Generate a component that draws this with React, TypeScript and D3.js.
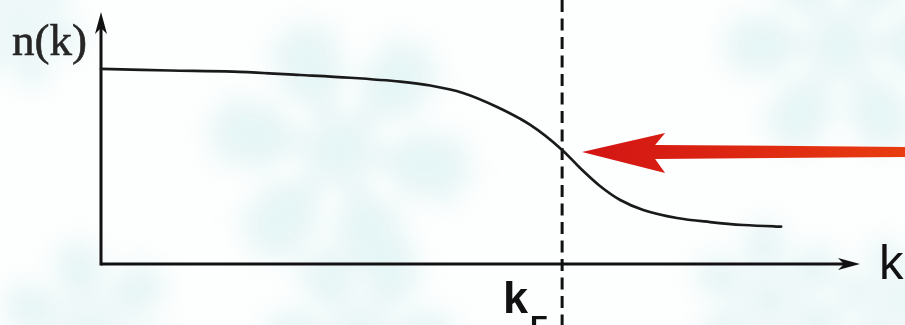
import React, { useMemo } from "react";
import * as d3 from "d3";

// Momentum distribution n(k), k in units of the Fermi momentum kF
const kValues = [0, 0.15, 0.286, 0.432, 0.54, 0.649, 0.714, 0.785, 0.859, 0.931, 1.0, 1.039, 1.082, 1.126, 1.176, 1.249, 1.321, 1.393, 1.475];
const nValues = [1.0, 0.992, 0.986, 0.969, 0.955, 0.935, 0.915, 0.877, 0.805, 0.713, 0.585, 0.492, 0.4, 0.328, 0.277, 0.236, 0.215, 0.2, 0.192];

const kFermi = 1.0;
const kAxisMax = 1.646;
const nAxisMax = 1.292;

const yLabel = "n(k)";
const xLabel = "k";
const fermiLabel = "k";
const fermiSub = "F";

const W = 905;
const H = 325;

// faint snowflake decorations in the backdrop: [cx, cy, radius, rotation]
const flakes: [number, number, number, number][] = [
  [340, 150, 125, 10],
  [840, 45, 110, 0],
  [20, 25, 60, 15],
  [90, 330, 85, 20],
  [360, 335, 90, 0],
  [770, 300, 75, 25],
  [900, 300, 60, 10],
];

function Snowflake({ cx, cy, r, rot }: { cx: number; cy: number; r: number; rot: number }) {
  const arms = d3.range(6).map((i) => {
    const a = ((i * 60 + rot) * Math.PI) / 180;
    const ex = Math.cos(a) * r;
    const ey = Math.sin(a) * r;
    const branches = [0.45, 0.7].map((t) => {
      const bx = Math.cos(a) * r * t;
      const by = Math.sin(a) * r * t;
      const len = r * 0.28;
      return [-1, 1].map((s) => {
        const b = a + (s * Math.PI) / 4;
        return (
          <line
            key={`${t}-${s}`}
            x1={bx}
            y1={by}
            x2={bx + Math.cos(b) * len}
            y2={by + Math.sin(b) * len}
          />
        );
      });
    });
    return (
      <g key={i}>
        <line x1={0} y1={0} x2={ex} y2={ey} />
        {branches}
      </g>
    );
  });
  return (
    <g transform={`translate(${cx},${cy})`} stroke="#d6efef" strokeWidth={r * 0.17} strokeLinecap="round">
      {arms}
    </g>
  );
}

export default function App() {
  const x = useMemo(() => d3.scaleLinear().domain([0, kAxisMax]).range([101, 860]), []);
  const y = useMemo(() => d3.scaleLinear().domain([0, nAxisMax]).range([264, 12]), []);

  const pts: [number, number][] = kValues.map((k, i) => [k, nValues[i]]);
  const line = d3
    .line<[number, number]>()
    .x((d) => x(d[0]))
    .y((d) => y(d[1]))
    .curve(d3.curveCatmullRom.alpha(0.5));

  const x0 = x(0);
  const y0 = y(0);
  const xEnd = x(kAxisMax);
  const yTop = y(nAxisMax);
  const xF = x(kFermi);
  const nAtF = nValues[kValues.indexOf(kFermi)];
  const tipX = xF + 20;
  const tipY = y(nAtF) + 2;

  const arrow = [
    [tipX, tipY],
    [tipX + 83, tipY - 19],
    [tipX + 73, tipY - 7],
    [W, tipY - 5],
    [W, tipY + 5],
    [tipX + 73, tipY + 7],
    [tipX + 83, tipY + 21],
  ];

  return (
    <svg
      width={W}
      height={H}
      viewBox={`0 0 ${W} ${H}`}
      style={{ position: "fixed", left: 0, top: 0, background: "#fdfefe" }}
    >
      <defs>
        <filter id="soft" x="-50%" y="-50%" width="200%" height="200%">
          <feGaussianBlur stdDeviation="12" />
        </filter>
        <linearGradient id="redArrow" x1="0" x2="1" y1="0" y2="0">
          <stop offset="0%" stopColor="#d21414" />
          <stop offset="100%" stopColor="#e83c10" />
        </linearGradient>
      </defs>

      <g filter="url(#soft)" opacity={0.6}>
        {flakes.map(([cx, cy, r, rot], i) => (
          <Snowflake key={i} cx={cx} cy={cy} r={r} rot={rot} />
        ))}
      </g>

      {/* Fermi momentum marker */}
      <line x1={xF} x2={xF} y1={0} y2={H} stroke="#111" strokeWidth={3} strokeDasharray="12 6.5" />

      {/* axes */}
      <line x1={x0} x2={xEnd - 14} y1={y0} y2={y0} stroke="#111" strokeWidth={3} />
      <path d={`M${xEnd},${y0} L${xEnd - 22},${y0 - 6} L${xEnd - 16},${y0} L${xEnd - 22},${y0 + 6} Z`} fill="#111" />
      <line x1={x0} x2={x0} y1={y0 + 1.5} y2={yTop + 14} stroke="#111" strokeWidth={3} />
      <path d={`M${x0},${yTop} L${x0 - 6},${yTop + 22} L${x0},${yTop + 16} L${x0 + 6},${yTop + 22} Z`} fill="#111" />

      {/* n(k) curve */}
      <path d={line(pts) ?? ""} fill="none" stroke="#1a1a1a" strokeWidth={2.7} strokeLinecap="round" />

      {/* red pointer arrow */}
      <polygon points={arrow.map((p) => p.join(",")).join(" ")} fill="url(#redArrow)" />

      {/* labels */}
      <text
        x={12}
        y={55}
        fontFamily="'Liberation Serif', 'DejaVu Serif', serif"
        fontSize={45}
        fill="#262626"
        stroke="#262626"
        strokeWidth={0.6}
      >
        {yLabel}
      </text>
      <text x={879} y={279} fontFamily="'Liberation Sans', Arial, sans-serif" fontSize={49} fill="#111">
        {xLabel}
      </text>
      <text x={503} y={313} fontFamily="'Liberation Sans', Arial, sans-serif" fontWeight="bold" fontSize={45} fill="#111">
        {fermiLabel}
        <tspan x={530} y={336} fontSize={29}>
          {fermiSub}
        </tspan>
      </text>
    </svg>
  );
}
